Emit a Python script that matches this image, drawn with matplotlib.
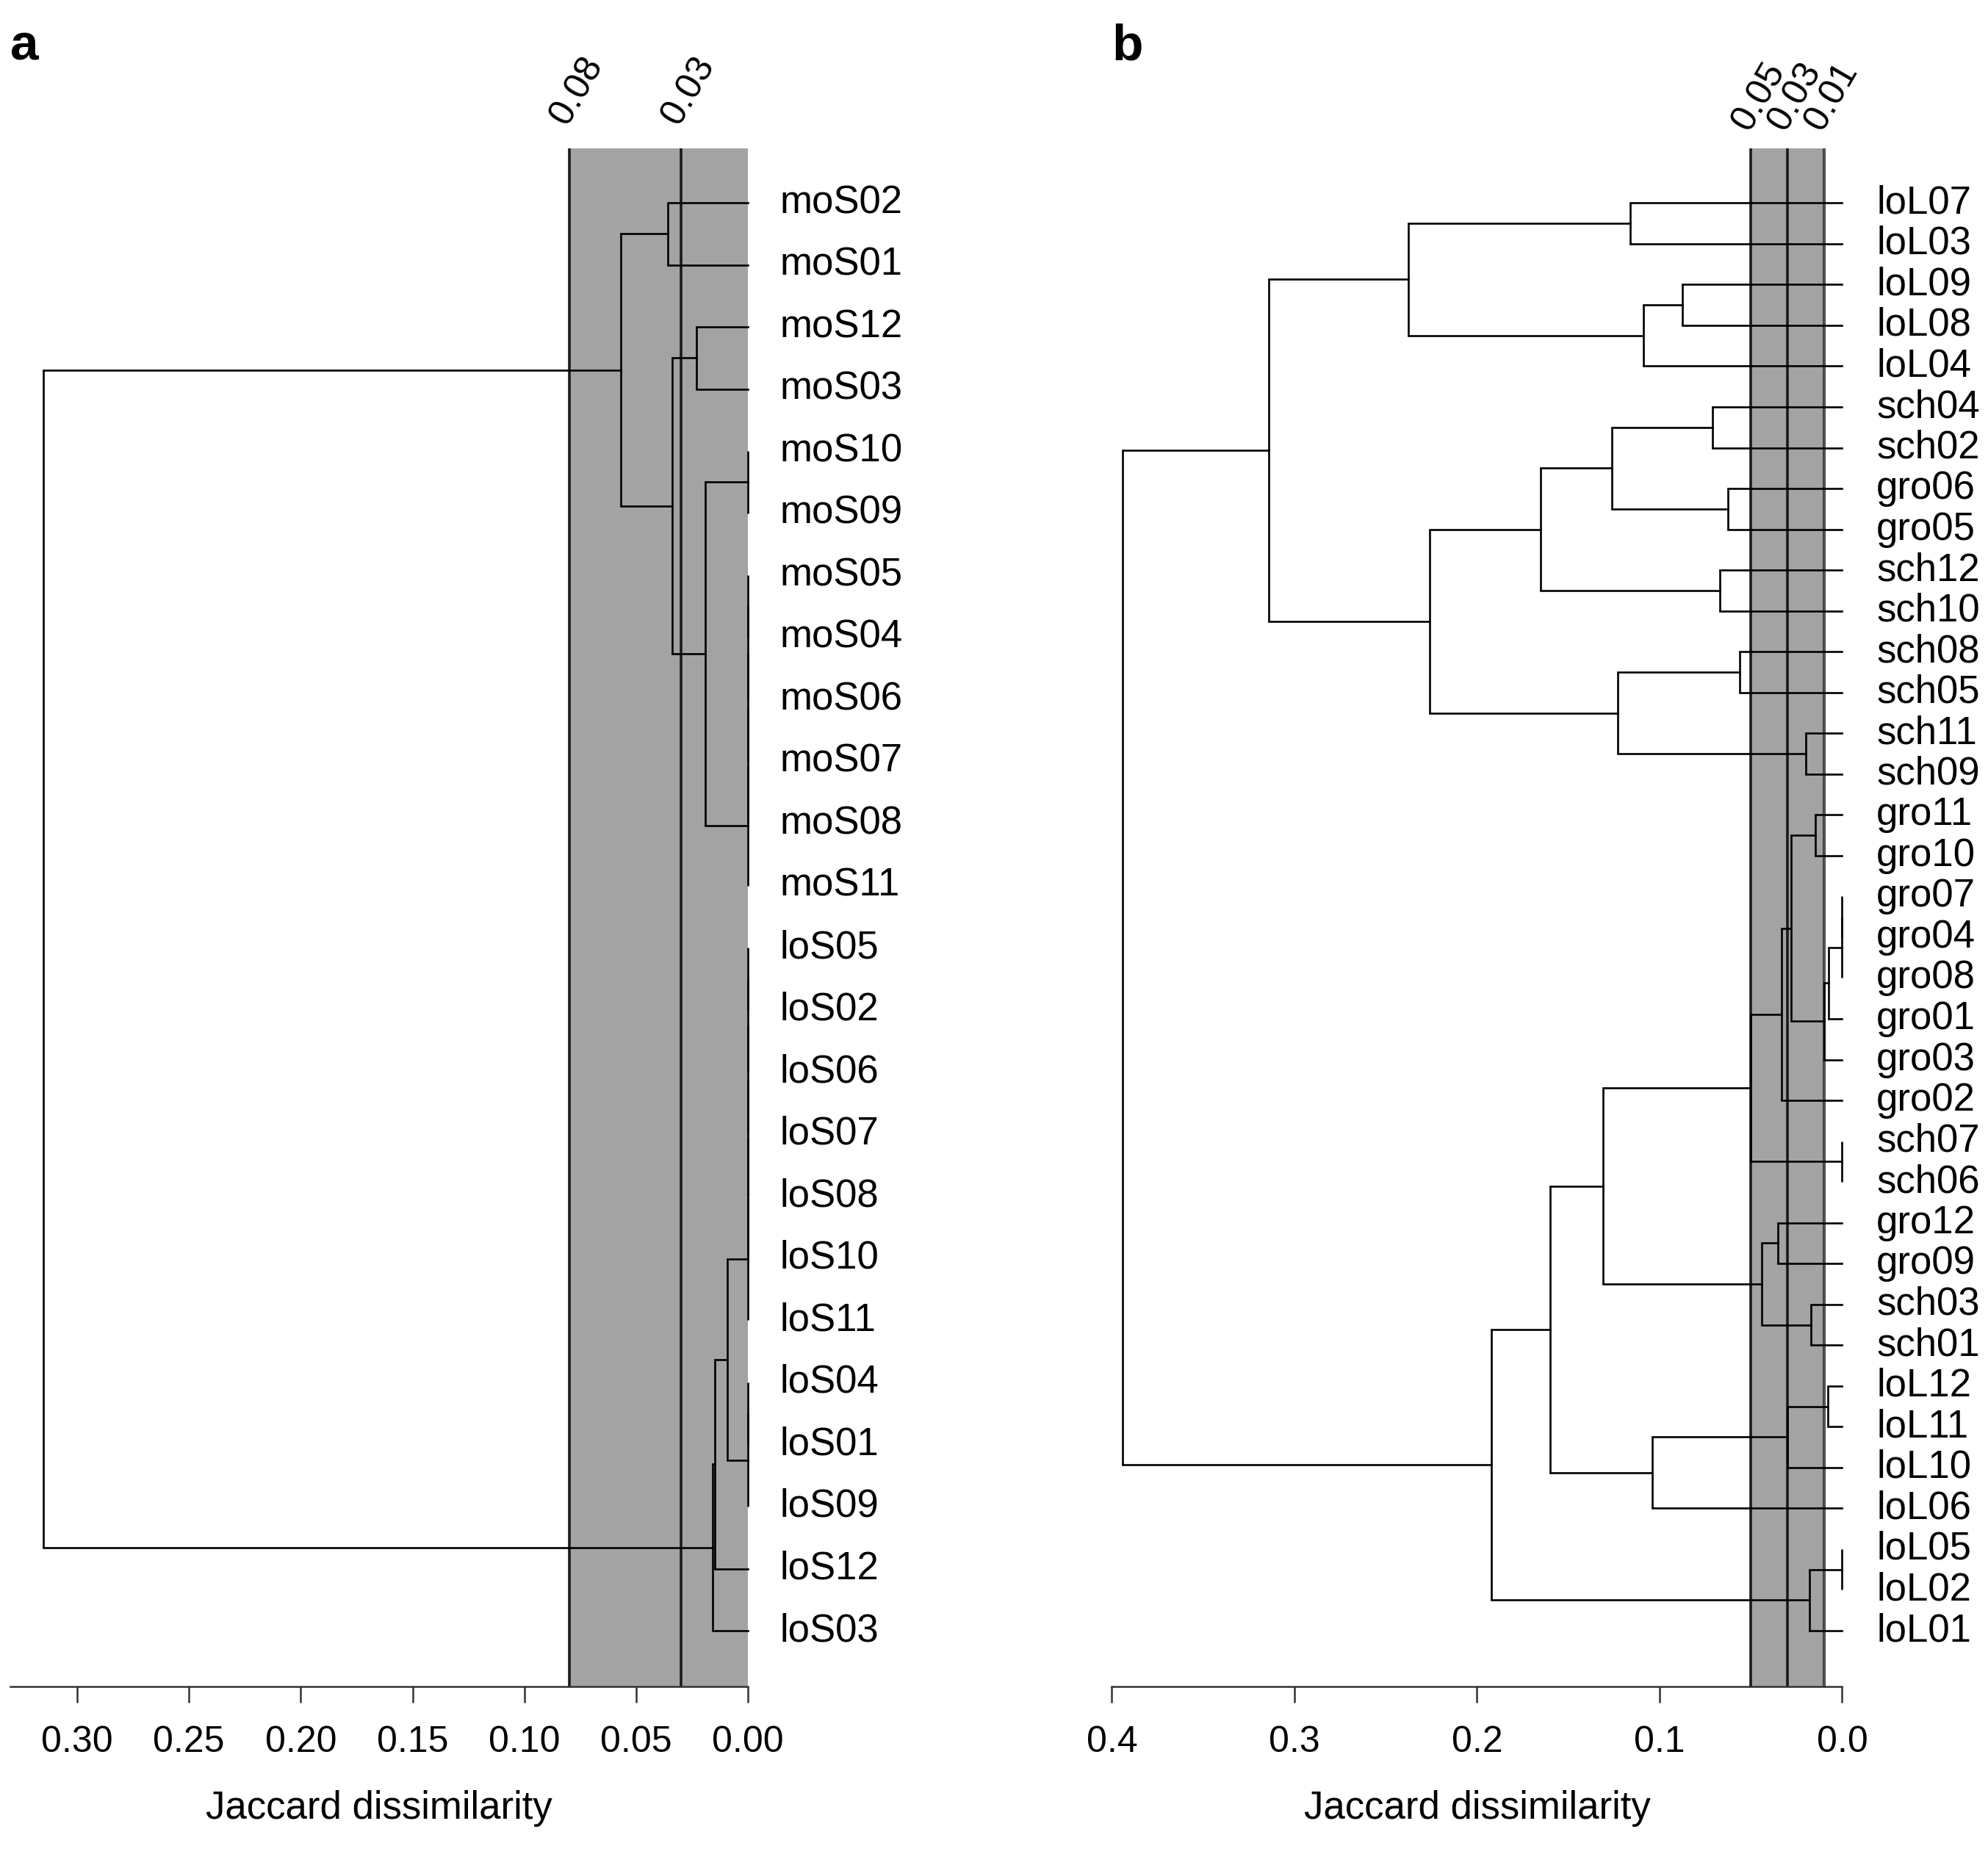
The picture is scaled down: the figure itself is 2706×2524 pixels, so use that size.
import matplotlib
matplotlib.use('Agg')
import matplotlib.pyplot as plt

plt.rcParams['font.family'] = ['Liberation Sans', 'DejaVu Sans']

# --- panel a: leaf order and merge tree (height, left, right) ---
leaves_a = ['moS02', 'moS01', 'moS12', 'moS03', 'moS10', 'moS09', 'moS05', 'moS04',
            'moS06', 'moS07', 'moS08', 'moS11', 'loS05', 'loS02', 'loS06', 'loS07',
            'loS08', 'loS10', 'loS11', 'loS04', 'loS01', 'loS09', 'loS12', 'loS03']
mo_zero = (0, (0, (0, (0, (0, 'moS05', 'moS04'), 'moS06'), 'moS07'), 'moS08'), 'moS11')
lo_zero_a = (0, (0, (0, (0, (0, (0, 'loS05', 'loS02'), 'loS06'), 'loS07'), 'loS08'), 'loS10'), 'loS11')
lo_zero_b = (0, (0, 'loS04', 'loS01'), 'loS09')
tree_a = (0.315,
          (0.057, (0.036, 'moS02', 'moS01'),
           (0.034, (0.023, 'moS12', 'moS03'),
            (0.019, (0, 'moS10', 'moS09'), mo_zero))),
          (0.016, (0.0148, (0.0093, lo_zero_a, lo_zero_b), 'loS12'), 'loS03'))
cuts_a = [0.08, 0.03]
band_a = (0.0, 0.08)
ticks_a = [0.30, 0.25, 0.20, 0.15, 0.10, 0.05, 0.00]

# --- panel b ---
leaves_b = ['loL07', 'loL03', 'loL09', 'loL08', 'loL04', 'sch04', 'sch02', 'gro06', 'gro05',
            'sch12', 'sch10', 'sch08', 'sch05', 'sch11', 'sch09', 'gro11', 'gro10', 'gro07',
            'gro04', 'gro08', 'gro01', 'gro03', 'gro02', 'sch07', 'sch06', 'gro12', 'gro09',
            'sch03', 'sch01', 'loL12', 'loL11', 'loL10', 'loL06', 'loL05', 'loL02', 'loL01']
lo_top = (0.2375, (0.116, 'loL07', 'loL03'), (0.109, (0.0875, 'loL09', 'loL08'), 'loL04'))
sch_a = (0.165, (0.126, (0.071, 'sch04', 'sch02'), (0.0625, 'gro06', 'gro05')),
         (0.067, 'sch12', 'sch10'))
sch_b = (0.123, (0.056, 'sch08', 'sch05'), (0.020, 'sch11', 'sch09'))
gro_core = (0.010, (0.0072, (0, (0, 'gro07', 'gro04'), 'gro08'), 'gro01'), 'gro03')
gro_big = (0.050, (0.033, (0.028, (0.0146, 'gro11', 'gro10'), gro_core), 'gro02'),
           (0, 'sch07', 'sch06'))
gro_small = (0.044, (0.035, 'gro12', 'gro09'), (0.017, 'sch03', 'sch01'))
lo_mid = (0.104, (0.030, (0.008, 'loL12', 'loL11'), 'loL10'), 'loL06')
lo_bot = (0.018, (0, 'loL05', 'loL02'), 'loL01')
tree_b = (0.394,
          (0.314, lo_top, (0.226, sch_a, sch_b)),
          (0.192, (0.160, (0.131, gro_big, gro_small), lo_mid), lo_bot))
cuts_b = [0.05, 0.03, 0.01]
band_b = (0.01, 0.05)
ticks_b = [0.4, 0.3, 0.2, 0.1, 0.0]

LW = 1.9


def draw_node(ax, node, pos):
    """Draw a dendrogram node; return (y, height) of its attachment point."""
    if isinstance(node, str):
        return pos[node], 0.0
    h, left, right = node
    y1, h1 = draw_node(ax, left, pos)
    y2, h2 = draw_node(ax, right, pos)
    ax.plot([h1, h], [y1, y1], color='black', lw=LW, clip_on=False, zorder=3)
    ax.plot([h2, h], [y2, y2], color='black', lw=LW, clip_on=False, zorder=3)
    ax.plot([h, h], [y1, y2], color='black', lw=LW, clip_on=False, zorder=3,
            solid_capstyle='butt')
    return (y1 + y2) / 2, h


def panel(rect, leaves, tree, cuts, band, ticks, xmax, ylim, label_off, letter, fmt):
    ax = fig.add_axes(rect)
    pos = {name: i for i, name in enumerate(leaves)}
    ax.axvspan(band[0], band[1], color='#a3a3a3', zorder=1, lw=0)
    for c in cuts:
        ax.axvline(c, color='#1a1a1a', lw=2.6, zorder=2)
        ax.text(c - 0.002 * xmax / 0.33, ylim[1] - 0.3, f'{c:.2f}', rotation=60,
                rotation_mode='anchor', ha='left', va='bottom', fontsize=36)
    if band[0] > 0:
        ax.axvline(band[0], color='#555555', lw=1.5, zorder=2)
    draw_node(ax, tree, pos)
    for name, i in pos.items():
        ax.text(-label_off, i, name, ha='left', va='center', fontsize=38, clip_on=False)
    ax.set_xlim(xmax, 0)
    ax.set_ylim(*ylim)
    for s in ['top', 'right', 'left']:
        ax.spines[s].set_visible(False)
    ax.spines['bottom'].set_linewidth(1.8)
    ax.spines['bottom'].set_color('#333333')
    ax.set_yticks([])
    ax.set_xticks(ticks)
    ax.set_xticklabels([fmt.format(t) for t in ticks], fontsize=36)
    ax.tick_params(axis='x', length=16, width=1.8, pad=22, colors='#333333',
                   labelcolor='black')
    ax.set_xlabel('Jaccard dissimilarity', fontsize=38, labelpad=30)
    fig.text(rect[0], 0.975, letter, fontsize=50, fontweight='bold', va='center', ha='left')
    return ax


fig = plt.figure(figsize=(27.06, 25.24), dpi=100)
panel([0.005, 0.0903, 0.3713, 0.8297], leaves_a, tree_a, cuts_a, band_a, ticks_a,
      0.33, (23.9, -0.878), 0.0142, 'a', '{:.2f}')
panel([0.5593, 0.0903, 0.3673, 0.8297], leaves_b, tree_b, cuts_b, band_b, ticks_b,
      0.4, (36.37, -1.34), 0.0188, 'b', '{:.1f}')

fig.savefig('out.png', dpi=100)
